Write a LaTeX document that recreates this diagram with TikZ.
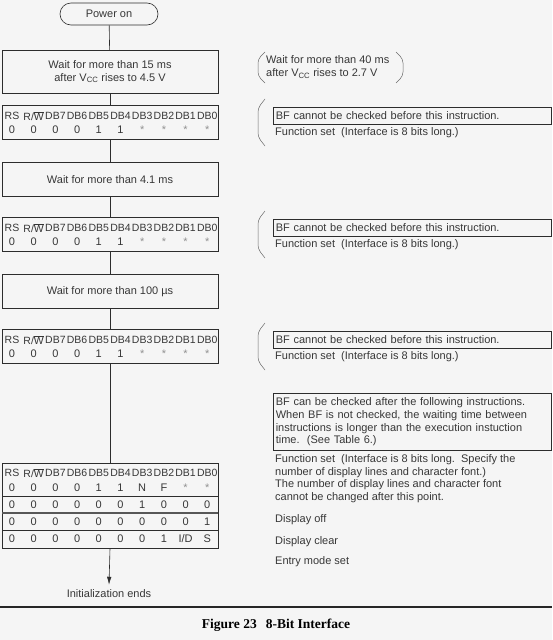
\documentclass[tikz,border=0pt]{standalone}
\usepackage{fontspec}
\setmainfont{Liberation Sans}
\newfontfamily\capfont{Liberation Serif}
\usetikzlibrary{arrows.meta}
\definecolor{bg}{RGB}{245,245,245}
\definecolor{ink}{RGB}{55,55,55}
\definecolor{ln}{RGB}{45,45,45}
\newcommand\ovlW{\leavevmode\vbox{\hrule height 0.45pt\kern0.9pt\hbox{W}}}
\newcommand\st{\textcolor{ink!55}{\raisebox{-0.45ex}{*}}}
\newcommand\hdr[1]{\foreach \lab [count=\i from 0] in {RS,R/\ovlW,DB7,DB6,DB5,DB4,DB3,DB2,DB1,DB0}
  \node[hd] (hd#1\i) at (12+21.7*\i,#1) {\lab};}
\newcommand\vrow[3]{\foreach \v [count=\i from 0] in {#2}
  \node (#1\i) at (12+21.7*\i,#3) {\v};}
\newcommand\lbrk[2]{\draw[brk] (265,#1) -- (258,#1+9) -- (258,#2-9) -- (265,#2);}
\begin{document}
\begin{tikzpicture}[x=1pt,y=-1pt,
  every node/.style={text=ink, font=\fontsize{11}{12.7}\selectfont, inner sep=0pt},
  hd/.style={font=\fontsize{10.5}{12}\selectfont},
  box/.style={draw=ln, line width=0.6pt, minimum width=216pt, anchor=north, align=center},
  nbox/.style={draw=ln, line width=0.6pt, text width=273pt, inner xsep=2.5pt, align=left},
  brk/.style={draw=ln!70, line width=0.5pt, rounded corners=4pt},
  conn/.style={draw=ln, line width=0.6pt}]
\fill[bg] (0,0) rectangle (552,640);
\useasboundingbox (0,0) rectangle (552,640);

% main flow
\node[draw=ln, line width=0.6pt, rounded corners=11pt, minimum width=98pt, minimum height=22pt] (pwr) at (109,14) {Power on};
\node[box, minimum height=43pt] (w1) at (110,50) {Wait for more than 15 ms\\after V\textsubscript{CC} rises to 4.5 V};
\node[box, minimum height=34pt] (t1) at (110,105) {};
\node[box, minimum height=34pt] (w2) at (110,162) {Wait for more than 4.1 ms};
\node[box, minimum height=34pt] (t2) at (110,217) {};
\node[box, minimum height=34pt] (w3) at (110,274) {Wait for more than 100 µs};
\node[box, minimum height=34pt] (t3) at (110,329) {};
\node[box, minimum height=85pt] (t4) at (110,463) {};
\node (ie) at (109,594) {Initialization ends};

\draw[conn] (pwr) -- (w1);
\draw[conn] (w1) -- (t1);
\draw[conn] (t1) -- (w2);
\draw[conn] (w2) -- (t2);
\draw[conn] (t2) -- (w3);
\draw[conn] (w3) -- (t3);
\draw[conn] (t3) -- (t4);
\draw[conn, -{Latex[length=8pt,width=4.5pt]}] (t4.south) -- ([yshift=5pt]ie.north);

% table contents
\hdr{116}
\vrow{va}{0,0,0,0,1,1,\st,\st,\st,\st}{130}
\hdr{228}
\vrow{vb}{0,0,0,0,1,1,\st,\st,\st,\st}{242}
\hdr{340}
\vrow{vc}{0,0,0,0,1,1,\st,\st,\st,\st}{354}
\hdr{473}
\vrow{vd}{0,0,0,0,1,1,N,F,\st,\st}{488}
\vrow{ve}{0,0,0,0,0,0,1,0,0,0}{505}
\vrow{vf}{0,0,0,0,0,0,0,0,0,1}{522}
\vrow{vg}{0,0,0,0,0,0,0,1,I/D,S}{539}
\draw[conn] (2,496) -- (218,496);
\draw[draw=ln!80, line width=1.1pt] (2,513) -- (218,513);
\draw[conn] (2,530) -- (218,530);

% right-hand notes
\draw[brk] (265,52) -- (258,59) -- (258,76) -- (265,83);
\draw[brk] (396,52) -- (403,59) -- (403,76) -- (396,83);
\node[anchor=west, align=left] (n0) at (266,67) {Wait for more than 40 ms\\after V\textsubscript{CC} rises to 2.7 V};

\lbrk{99}{146}
\node[nbox, minimum height=17pt, anchor=west] (n1) at (273,115.5) {BF cannot be checked before this instruction.};
\node[anchor=west] (f1) at (275,133) {Function set~~(Interface is 8 bits long.)};

\lbrk{211}{258}
\node[nbox, minimum height=17pt, anchor=west] (n2) at (273,227.5) {BF cannot be checked before this instruction.};
\node[anchor=west] (f2) at (275,245) {Function set~~(Interface is 8 bits long.)};

\lbrk{323}{370}
\node[nbox, minimum height=17pt, anchor=west] (n3) at (273,339.5) {BF cannot be checked before this instruction.};
\node[anchor=west] (f3) at (275,357) {Function set~~(Interface is 8 bits long.)};

\node[nbox, minimum height=57pt, anchor=north west] (n4) at (273,393) {BF can be checked after the following instructions.\\When BF is not checked, the waiting time between\\instructions is longer than the execution instuction\\time.~~(See Table 6.)};
\node[anchor=west, align=left] (f4) at (275,478.5) {Function set~~(Interface is 8 bits long.~~Specify the\\number of display lines and character font.)\\The number of display lines and character font\\cannot be changed after this point.};
\node[anchor=west] (d1) at (275,520) {Display off};
\node[anchor=west] (d2) at (275,542) {Display clear};
\node[anchor=west] (d3) at (275,562) {Entry mode set};

% caption
\draw[line width=1.8pt, black!85] (0,607) -- (552,607);
\node[text=black, font=\capfont\bfseries\fontsize{13.5}{15}\selectfont] (cap) at (276,625) {Figure 23\hspace{9pt}8-Bit Interface};
\end{tikzpicture}
\end{document}
